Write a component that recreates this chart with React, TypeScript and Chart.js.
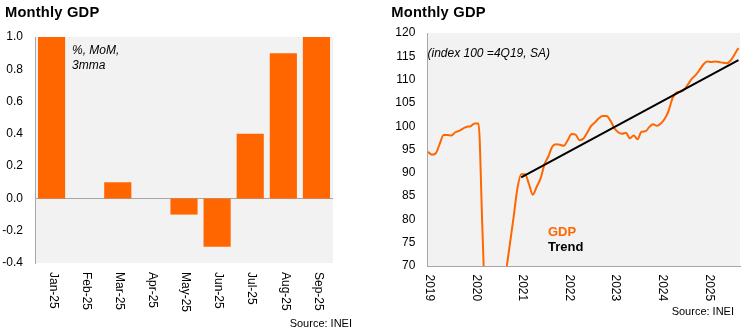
import React, { useEffect, useRef } from "react";
import { Chart, registerables } from "chart.js";

Chart.register(...registerables);

const FONT = '"Liberation Sans", Arial, Helvetica, sans-serif';
const ORANGE = "#FF6600";
const AXIS_GREY = "#A6A6A6";
const PLOT_BG = "#F2F2F2";

// ---- Left chart data (% MoM, 3mma) ----
const barCategories = ["Jan-25", "Feb-25", "Mar-25", "Apr-25", "May-25", "Jun-25", "Jul-25", "Aug-25", "Sep-25"];
const barValues = [1.3, 0, 0.1, 0, -0.1, -0.3, 0.4, 0.9, 1.2];
const barAxisMin = -0.4;
const barAxisMax = 1.0;
const barAxisStep = 0.2;

// ---- Right chart data (index 100 = 4Q19, SA), monthly from Jan-2019 ----
const gdpValues = [
  94.5, 93.9, 94.2, 96.2, 98.1, 98.1, 98.0, 98.7, 99.0, 99.5, 99.9, 100.0,
  100.6, 100.6, 78.0, 55.0, 48.0, 52.0, 58.0, 63.0, 68.2, 74.2, 80.2, 86.5,
  89.7, 89.7, 87.6, 85.3, 87.0, 88.8, 91.8, 93.5, 95.6, 96.1, 96.0, 95.8,
  97.0, 98.3, 98.2, 97.0, 97.3, 98.6, 100.0, 100.8, 101.7, 102.2, 102.2, 101.2,
  99.6, 98.7, 98.4, 98.6, 97.4, 98.0, 97.2, 98.8, 98.9, 99.8, 100.4, 100.1,
  100.6, 101.6, 103.3, 106.0, 107.2, 107.4, 107.8, 109.0, 110.2, 111.0, 112.1, 113.3,
  113.9, 113.8, 113.9, 113.8, 113.6, 113.5, 114.1, 115.4, 116.8,
];
const trendMonths = [24, 80];
const trendValues = [89.0, 114.2];
const yearLabels = ["2019", "2020", "2021", "2022", "2023", "2024", "2025"];
const yearTickMonths = [0, 12, 24, 36, 48, 60, 72];
const lineAxisMin = 70;
const lineAxisMax = 120;
const lineAxisStep = 5;

const plotBgPlugin = {
  id: "plotBg",
  beforeDraw(chart: any) {
    const { ctx, chartArea } = chart;
    ctx.save();
    ctx.fillStyle = PLOT_BG;
    ctx.fillRect(chartArea.left, chartArea.top, chartArea.right - chartArea.left, chartArea.bottom - chartArea.top);
    ctx.restore();
  },
};

const rotatedLabelsPlugin = {
  id: "rotatedLabels",
  afterDraw(chart: any, _args: any, opts: any) {
    const { ctx, chartArea } = chart;
    const scale = chart.scales.x;
    ctx.save();
    ctx.font = `12px ${FONT}`;
    ctx.fillStyle = "#000";
    ctx.textAlign = "left";
    ctx.textBaseline = "middle";
    (opts.labels as string[]).forEach((lab, i) => {
      const x = scale.getPixelForValue(opts.values[i]);
      ctx.save();
      ctx.translate(x + (opts.dx || 0), chartArea.bottom + (opts.gap || 0));
      ctx.rotate(Math.PI / 2);
      ctx.fillText(lab, 0, 0);
      ctx.restore();
    });
    ctx.restore();
  },
};

function BarChart() {
  const ref = useRef<HTMLCanvasElement>(null);
  useEffect(() => {
    const chart = new Chart(ref.current as HTMLCanvasElement, {
      type: "bar",
      data: {
        labels: barCategories,
        datasets: [
          {
            data: barValues,
            backgroundColor: ORANGE,
            borderWidth: 0,
            barPercentage: 0.82,
            categoryPercentage: 1,
          },
        ],
      },
      options: {
        animation: false,
        responsive: false,
        layout: { padding: { left: 0, right: 42, top: 37, bottom: 69 } },
        plugins: {
          legend: { display: false },
          tooltip: { enabled: false },
          rotatedLabels: { labels: barCategories, values: barCategories.map((_, i) => i), dx: 1.5, gap: 9 },
        } as any,
        scales: {
          x: {
            type: "category",
            offset: true,
            grid: { display: false, drawTicks: false },
            border: { display: false },
            ticks: { display: false },
            afterFit: (s: any) => { s.height = 0; },
          },
          y: {
            min: barAxisMin,
            max: barAxisMax,
            ticks: {
              stepSize: barAxisStep,
              padding: 12,
              color: "#000",
              font: { family: FONT, size: 12 },
              callback: (v: any) => (Math.abs(Number(v)) < 1e-9 ? "0.0" : Number(v).toFixed(1)),
            },
            grid: {
              drawTicks: false,
              color: (c: any) => (c.tick && Math.abs(c.tick.value) < 1e-9 ? AXIS_GREY : "rgba(0,0,0,0)"),
            },
            border: { display: true, color: AXIS_GREY, width: 1 },
            afterFit: (s: any) => { s.width = 35; },
          },
        },
      },
      plugins: [plotBgPlugin, rotatedLabelsPlugin],
    } as any);
    return () => chart.destroy();
  }, []);
  return <canvas ref={ref} width={375} height={332} style={{ position: "absolute", left: 0, top: 0, width: 375, height: 332 }} />;
}

function LineChart() {
  const ref = useRef<HTMLCanvasElement>(null);
  useEffect(() => {
    const chart = new Chart(ref.current as HTMLCanvasElement, {
      type: "line",
      data: {
        datasets: [
          {
            label: "Trend",
            data: trendMonths.map((m, i) => ({ x: m, y: trendValues[i] })),
            borderColor: "#000",
            borderWidth: 2,
            pointRadius: 0,
          },
          {
            label: "GDP",
            data: gdpValues.map((v, i) => ({ x: i, y: v })),
            borderColor: ORANGE,
            borderWidth: 2,
            pointRadius: 0,
            cubicInterpolationMode: "monotone",
          },
        ],
      },
      options: {
        animation: false,
        responsive: false,
        layout: { padding: { left: 0, right: 10, top: 33, bottom: 66 } },
        plugins: {
          legend: { display: false },
          tooltip: { enabled: false },
          rotatedLabels: { labels: yearLabels, values: yearTickMonths, dx: 1.5, gap: 8.5 },
        } as any,
        scales: {
          x: {
            type: "linear",
            min: -0.2,
            max: 80.4,
            grid: { display: false, drawTicks: false },
            border: { display: true, color: AXIS_GREY, width: 1 },
            ticks: { display: false },
            afterFit: (s: any) => { s.height = 0; },
          },
          y: {
            min: lineAxisMin,
            max: lineAxisMax,
            ticks: {
              stepSize: lineAxisStep,
              padding: 12,
              color: "#000",
              font: { family: FONT, size: 12 },
            },
            grid: { display: false, drawTicks: false },
            border: { display: true, color: AXIS_GREY, width: 1 },
            afterFit: (s: any) => { s.width = 52.3; },
          },
        },
      },
      plugins: [plotBgPlugin, rotatedLabelsPlugin],
    } as any);
    return () => chart.destroy();
  }, []);
  return <canvas ref={ref} width={375} height={332} style={{ position: "absolute", left: 375, top: 0, width: 375, height: 332 }} />;
}

const abs = (o: any): React.CSSProperties => ({ position: "absolute", whiteSpace: "nowrap", fontFamily: FONT, ...o });

export default function App() {
  return (
    <div style={{ position: "fixed", left: 0, top: 0, width: 750, height: 332, background: "#fff", overflow: "hidden" }}>
      <BarChart />
      <LineChart />
      <div style={abs({ left: 5, top: 5.2, fontSize: 14.7, lineHeight: "14.7px", fontWeight: "bold", letterSpacing: "0.2px", color: "#000" })}>Monthly GDP</div>
      <div style={abs({ left: 391.3, top: 5.2, fontSize: 14.7, lineHeight: "14.7px", fontWeight: "bold", letterSpacing: "0.2px", color: "#000" })}>Monthly GDP</div>
      <div style={abs({ left: 72, top: 42.6, fontSize: 12, lineHeight: "15.5px", fontStyle: "italic", color: "#000" })}>
        %, MoM,
        <br />
        3mma
      </div>
      <div style={abs({ left: 427.5, top: 47.3, fontSize: 12, lineHeight: "12px", fontStyle: "italic", color: "#000" })}>(index 100 =4Q19, SA)</div>
      <div style={abs({ left: 548, top: 223.5, fontSize: 13, lineHeight: "15px", fontWeight: "bold" })}>
        <span style={{ color: ORANGE }}>GDP</span>
        <br />
        <span style={{ color: "#000" }}>Trend</span>
      </div>
      <div style={abs({ right: 398, top: 317.7, fontSize: 11, lineHeight: "11px", color: "#000" })}>Source: INEI</div>
      <div style={abs({ right: 16, top: 306.2, fontSize: 11, lineHeight: "11px", color: "#000" })}>Source: INEI</div>
    </div>
  );
}
